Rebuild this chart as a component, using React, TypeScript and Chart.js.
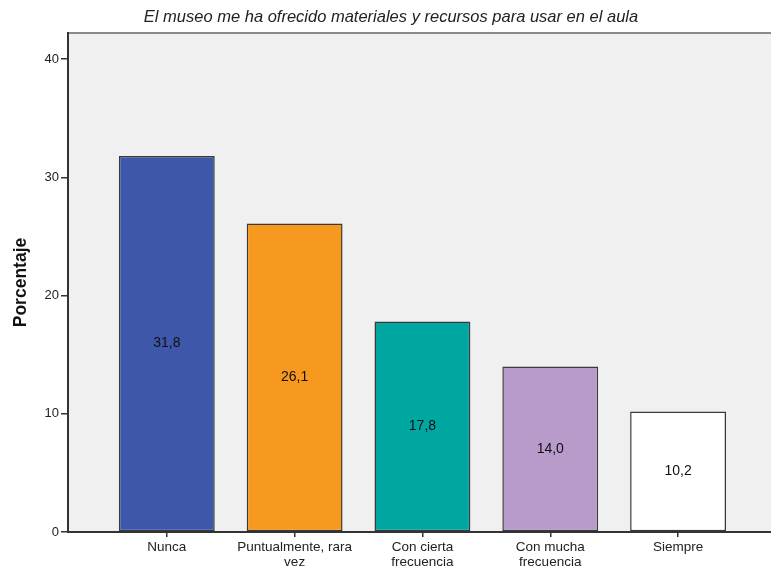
import React, { useEffect, useRef } from "react";
import { Chart, registerables } from "chart.js";

Chart.register(...registerables);

const categories: string[][] = [
  ["Nunca"],
  ["Puntualmente, rara", "vez"],
  ["Con cierta", "frecuencia"],
  ["Con mucha", "frecuencia"],
  ["Siempre"],
];
const values: number[] = [31.8, 26.1, 17.8, 14.0, 10.2];
const barColors: string[] = ["#3E57AB", "#F7991F", "#00A7A1", "#B89BCA", "#FFFFFF"];
const yTicks: number[] = [0, 10, 20, 30, 40];
const titleText = "El museo me ha ofrecido materiales y recursos para usar en el aula";
const yAxisTitle = "Porcentaje";

const FONT = "'Liberation Sans', Arial, sans-serif";

export default function App() {
  const ref = useRef<HTMLCanvasElement | null>(null);

  useEffect(() => {
    const canvas = ref.current;
    if (!canvas) return;

    const decor = {
      id: "decor",
      beforeDraw(chart: any) {
        const { ctx, chartArea } = chart;
        ctx.save();
        ctx.fillStyle = "#F0F0F0";
        ctx.fillRect(chartArea.left, chartArea.top, chartArea.right - chartArea.left, chartArea.bottom - chartArea.top);
        ctx.strokeStyle = "#8A8A8A";
        ctx.lineWidth = 2;
        ctx.beginPath();
        ctx.moveTo(chartArea.left, chartArea.top);
        ctx.lineTo(chartArea.right, chartArea.top);
        ctx.stroke();
        ctx.restore();
      },
      afterDraw(chart: any) {
        const { ctx, chartArea } = chart;
        ctx.save();
        ctx.fillStyle = "#222";
        ctx.font = `italic 16.5px ${FONT}`;
        ctx.textAlign = "center";
        ctx.textBaseline = "middle";
        ctx.fillText(titleText, 391, 17);
        ctx.translate(21, (chartArea.top + chartArea.bottom) / 2);
        ctx.rotate(-Math.PI / 2);
        ctx.font = `bold 17.5px ${FONT}`;
        ctx.fillStyle = "#111";
        ctx.fillText(yAxisTitle, 0, 0);
        ctx.restore();

        const meta = chart.getDatasetMeta(0);
        ctx.save();
        ctx.font = `14px ${FONT}`;
        ctx.fillStyle = "#111";
        ctx.textAlign = "center";
        ctx.textBaseline = "middle";
        meta.data.forEach((bar: any, i: number) => {
          const midY = (bar.y + bar.base) / 2;
          ctx.fillText(values[i].toFixed(1).replace(".", ","), bar.x, midY);
        });
        ctx.restore();
      },
    };

    const chart = new Chart(canvas, {
      type: "bar",
      data: {
        datasets: [
          {
            data: values.map((v, i) => ({ x: i, y: v })),
            backgroundColor: barColors,
            borderColor: "#3A3A3A",
            borderWidth: 1.5,
            borderSkipped: false,
            barPercentage: 0.75,
            categoryPercentage: 1,
          },
        ],
      },
      options: {
        animation: false,
        responsive: false,
        layout: { padding: { top: 33, right: 0, left: 0, bottom: 0 } },
        plugins: { legend: { display: false }, tooltip: { enabled: false }, title: { display: false } },
        scales: {
          x: {
            type: "linear",
            offset: false,
            min: -0.773,
            max: 4.727,
            afterBuildTicks: (scale: any) => {
              scale.ticks = categories.map((_, i) => ({ value: i }));
            },
            afterFit: (scale: any) => {
              scale.height = 37;
            },
            ticks: {
              autoSkip: false,
              maxRotation: 0,
              padding: 3,
              color: "#222",
              font: { family: FONT, size: 13.5, lineHeight: 1.1 },
              callback: (v: any) => categories[Math.round(Number(v))] ?? "",
            },
            grid: { offset: false, drawOnChartArea: false, drawTicks: true, tickLength: 5, color: "#333", lineWidth: 1.5 },
            border: { display: true, color: "#333", width: 2 },
          },
          y: {
            type: "linear",
            min: 0,
            max: 42.2,
            afterBuildTicks: (scale: any) => {
              scale.ticks = yTicks.map((v) => ({ value: v }));
            },
            afterFit: (scale: any) => {
              scale.width = 68;
            },
            ticks: {
              padding: 2,
              color: "#222",
              font: { family: FONT, size: 13 },
            },
            grid: { drawOnChartArea: false, drawTicks: true, tickLength: 7, color: "#333", lineWidth: 1.5 },
            border: { display: true, color: "#333", width: 2 },
          },
        },
      },
      plugins: [decor],
    } as any);

    return () => chart.destroy();
  }, []);

  return (
    <div style={{ position: "fixed", left: 0, top: 0, width: 771, height: 569, background: "#fff" }}>
      <canvas ref={ref} width={771} height={569} style={{ width: 771, height: 569, display: "block" }} />
    </div>
  );
}
